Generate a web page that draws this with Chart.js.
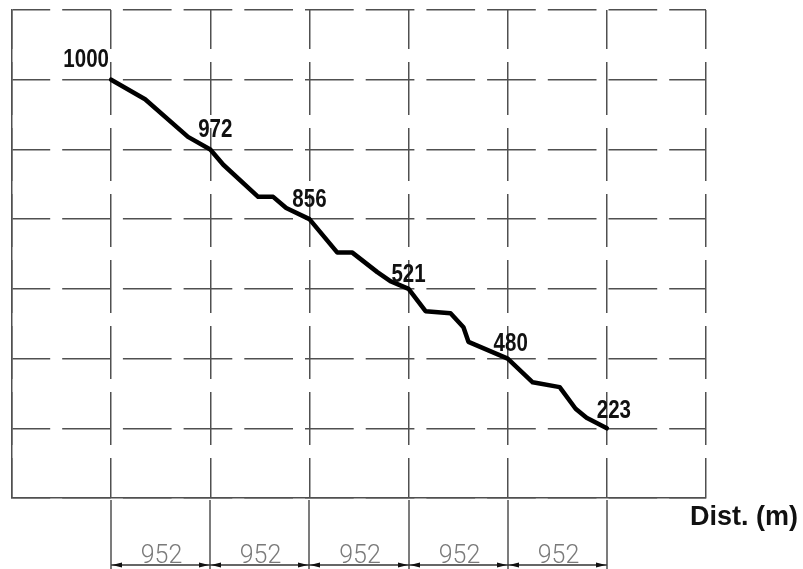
<!DOCTYPE html>
<html>
<head>
<meta charset="utf-8">
<script src="https://cdn.jsdelivr.net/npm/chart.js@4/dist/chart.umd.min.js"></script>
<style>
  html, body { margin: 0; padding: 0; background: #ffffff; }
  #wrap { width: 803px; height: 569px; position: relative; }
</style>
</head>
<body>
<div id="wrap"><canvas id="c" width="803" height="569"></canvas></div>
<script>
// ---- data ----
const segmentLengths = [952, 952, 952, 952, 952];            // metres between stations
const stationLabels  = ['1000', '972', '856', '521', '480', '223'];
// profile vertices: distance along route (m) and grid level (row index from bottom)
const profileDist  = [0, 326, 738, 952, 1077, 1412, 1556, 1681, 1904, 2172, 2316, 2556, 2681, 2856, 3019, 3259, 3383, 3431, 3808, 4048, 4307, 4460, 4565, 4760];
const profileLevel = [6, 5.72, 5.18, 5, 4.78, 4.32, 4.32, 4.16, 4, 3.52, 3.52, 3.24, 3.11, 3, 2.68, 2.65, 2.45, 2.24, 2, 1.66, 1.59, 1.28, 1.15, 1];
const stationLevels = [6, 5, 4, 3, 2, 1];
const axisTitle = 'Dist. (m)';

// ---- derived ----
const stationDist = [0];
segmentLengths.forEach((d, i) => stationDist.push(stationDist[i] + d));
const step = segmentLengths[0];
const points = profileDist.map((d, i) => ({ x: d, y: profileLevel[i] }));

// label placement (pixel offsets from the station point: centre x, baseline y)
const labelOffsets = [[-25, -13], [5, -12], [0, -12], [0, -7], [3, -8], [7, -10]];

const annotate = {
  id: 'annotate',
  afterDraw(chart) {
    const ctx = chart.ctx;
    const xs = chart.scales.x, ys = chart.scales.y;
    const area = chart.chartArea;
    ctx.save();
    // station labels (narrow face)
    ctx.fillStyle = '#111';
    ctx.font = 'bold 25px "Liberation Sans", Arial, sans-serif';
    ctx.textAlign = 'center';
    ctx.textBaseline = 'alphabetic';
    stationLabels.forEach((t, i) => {
      const px = xs.getPixelForValue(stationDist[i]);
      const py = ys.getPixelForValue(stationLevels[i]);
      ctx.save();
      ctx.translate(px + labelOffsets[i][0], py + labelOffsets[i][1]);
      ctx.scale(0.82, 1);
      ctx.fillText(t, 0, 0);
      ctx.restore();
    });
    // extension lines
    ctx.strokeStyle = '#505050';
    ctx.lineWidth = 1.5;
    const dimY = area.bottom + 67;
    stationDist.forEach(d => {
      const px = Math.round(xs.getPixelForValue(d));
      ctx.beginPath();
      ctx.moveTo(px, area.bottom + 2);
      ctx.lineTo(px, area.bottom + 71);
      ctx.stroke();
    });
    // dimension line
    const x0 = xs.getPixelForValue(stationDist[0]);
    const x1 = xs.getPixelForValue(stationDist[stationDist.length - 1]);
    ctx.strokeStyle = '#333';
    ctx.lineWidth = 1.3;
    ctx.beginPath();
    ctx.moveTo(x0, dimY); ctx.lineTo(x1, dimY); ctx.stroke();
    // arrows and texts
    const arrow = (tipX, dir) => {
      ctx.beginPath();
      ctx.moveTo(tipX, dimY);
      ctx.lineTo(tipX + dir * 10, dimY - 2.5);
      ctx.lineTo(tipX + dir * 10, dimY + 2.5);
      ctx.closePath();
      ctx.fill();
    };
    ctx.font = '300 25px Roboto, "DejaVu Sans", sans-serif';
    segmentLengths.forEach((len, i) => {
      const a = Math.round(xs.getPixelForValue(stationDist[i]));
      const b = Math.round(xs.getPixelForValue(stationDist[i + 1]));
      ctx.fillStyle = '#111';
      arrow(a + 1, 1);
      arrow(b - 1, -1);
      ctx.fillStyle = '#7a7a7a';
      ctx.textAlign = 'center';
      ctx.fillText(String(len), (a + b) / 2 + 1, dimY - 2);
    });
    // axis title
    ctx.fillStyle = '#111';
    ctx.textAlign = 'left';
    ctx.font = 'bold 27px "Liberation Sans", Arial, sans-serif';
    ctx.fillText(axisTitle, 690, 525);
    ctx.restore();
  }
};

new Chart(document.getElementById('c'), {
  type: 'line',
  data: {
    datasets: [{
      data: points,
      borderColor: '#000',
      borderWidth: 4.5,
      pointRadius: 0,
      tension: 0,
      fill: false,
      borderJoinStyle: 'round',
      borderCapStyle: 'round'
    }]
  },
  options: {
    responsive: false,
    animation: false,
    layout: { padding: { left: 12, top: 10, right: 97, bottom: 71 } },
    plugins: { legend: { display: false }, tooltip: { enabled: false } },
    scales: {
      x: {
        type: 'linear',
        min: -step,
        max: stationDist[stationDist.length - 1] + step,
        ticks: { display: false, stepSize: step },
        grid: { color: '#505050', lineWidth: 1.5, drawTicks: false },
        border: { display: true, color: '#505050', width: 1.5, dash: [53, 13], dashOffset: 14 }
      },
      y: {
        type: 'linear',
        min: 0,
        max: 7,
        ticks: { display: false, stepSize: 1 },
        grid: { color: '#505050', lineWidth: 1.5, drawTicks: false },
        border: { display: true, color: '#505050', width: 1.5, dash: [48.7, 12], dashOffset: 11 }
      }
    }
  },
  plugins: [annotate]
});
</script>
</body>
</html>
